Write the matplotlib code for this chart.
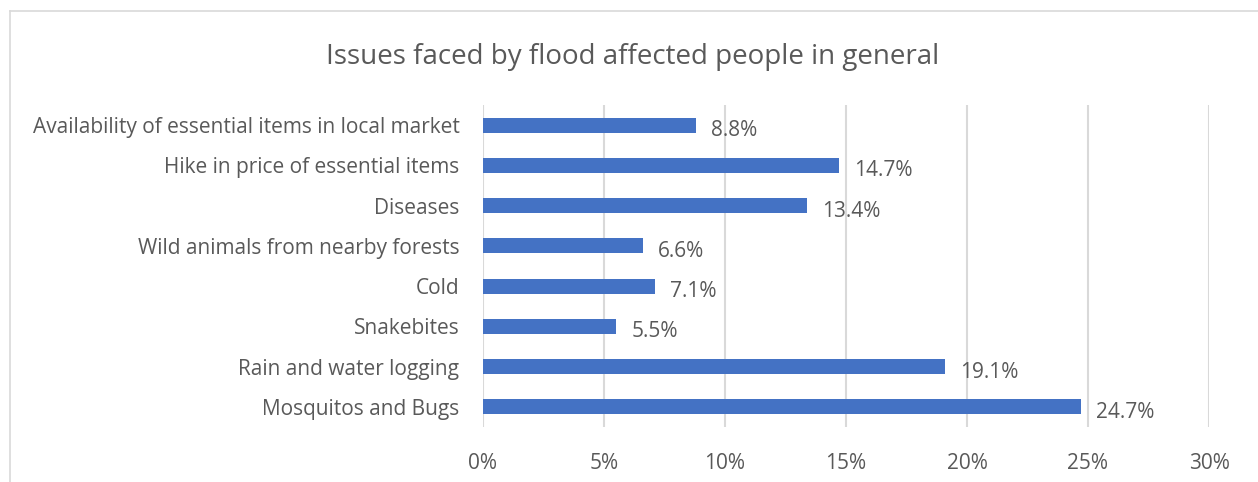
import matplotlib.pyplot as plt
from matplotlib.lines import Line2D
from matplotlib.ticker import FuncFormatter

categories = [
    'Mosquitos and Bugs',
    'Rain and water logging',
    'Snakebites',
    'Cold',
    'Wild animals from nearby forests',
    'Diseases',
    'Hike in price of essential items',
    'Availability of essential items in local market',
]
values = [24.7, 19.1, 5.5, 7.1, 6.6, 13.4, 14.7, 8.8]
xticks = [0, 5, 10, 15, 20, 25, 30]

bar_color = '#4472c4'
text_color = '#595959'
grid_color = '#d9d9d9'

plt.rcParams['font.family'] = ['Open Sans', 'DejaVu Sans']

fig = plt.figure(figsize=(12.58, 4.82), dpi=100)
W, H = 1258, 482
ax = fig.add_axes([483 / W, 1 - 427 / H, (1209 - 483) / W, (427 - 105) / H])

ypos = range(len(categories))
ax.barh(ypos, values, height=0.37, color=bar_color, zorder=3)
ax.set_ylim(-0.5, len(categories) - 0.5)
ax.set_xlim(0, 30)

for y, v in zip(ypos, values):
    ax.annotate(f'{v:.1f}%', (v, y), xytext=(11, -4), textcoords='offset points',
                va='center', ha='left', fontsize=15, color=text_color)

ax.set_yticks(list(ypos))
ax.set_yticklabels(categories, fontsize=15, color=text_color)
ax.set_xticks(xticks)
ax.xaxis.set_major_formatter(FuncFormatter(lambda x, p: f'{x:.0f}%'))
ax.tick_params(axis='x', labelsize=15, labelcolor=text_color, length=0, pad=19)
ax.tick_params(axis='y', length=0, pad=17)
ax.grid(axis='x', color=grid_color, linewidth=1.5, zorder=0)
for s in ax.spines.values():
    s.set_visible(False)

fig.text(633 / W, 1 - 57 / H, 'Issues faced by flood affected people in general',
         ha='center', va='center', fontsize=20, color=text_color)

# chart frame (cropped at right and bottom)
fig.add_artist(Line2D([10 / W, 1], [1 - 11 / H, 1 - 11 / H], color=grid_color, lw=1.2,
                      transform=fig.transFigure))
fig.add_artist(Line2D([10 / W, 10 / W], [0, 1 - 11 / H], color=grid_color, lw=1.2,
                      transform=fig.transFigure))

fig.savefig('out.png', dpi=100)
